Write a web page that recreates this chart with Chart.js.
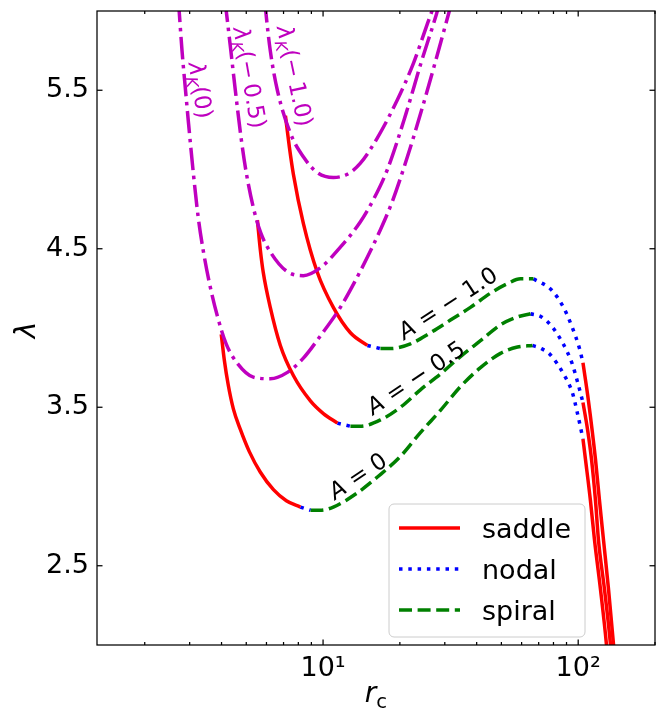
<!DOCTYPE html>
<html>
<head>
<meta charset="utf-8">
<title>lambda vs r_c</title>
<script src="https://cdn.jsdelivr.net/npm/chart.js@4"></script>
<style>
  html, body { margin: 0; padding: 0; background: #fff; }
  #chart { display: block; }
</style>
</head>
<body>
<canvas id="chart" width="664" height="711"></canvas>
<script>
// values: critical point r_c vs lambda for three A values,
// plus the three Keplerian curves lambda_K(A)

// A = 0
const rcA0 = [3.99, 4.10, 4.25, 4.45, 4.74, 5.14, 5.68, 6.39, 7.18, 8.15, 8.92, 9.76, 10.97, 13.63, 16.33, 20.10,
  24.07, 28.84, 34.55, 41.40, 49.59, 57.81, 66.20, 71.79, 77.90, 87.58, 94.97, 99.38, 104.4, 106.8, 111.7, 115.9,
  122.3, 129.1, 131.5];
const lamA0 = [3.96, 3.80, 3.64, 3.49, 3.36, 3.22, 3.09, 2.98, 2.91, 2.87, 2.85, 2.85, 2.87, 2.96, 3.06, 3.19,
  3.34, 3.48, 3.63, 3.75, 3.84, 3.88, 3.89, 3.87, 3.83, 3.71, 3.59, 3.46, 3.30, 3.17, 2.91, 2.66,
  2.35, 2.00, 1.84];
const cutsA0 = [9, 10, 22, 28];

// A = -0.5
const rcA05 = [5.53, 5.68, 5.83, 6.21, 6.80, 7.65, 8.92, 10.03, 11.38, 12.80, 14.01, 16.78, 20.10, 24.07, 28.84, 34.55,
  41.40, 49.59, 57.81, 65.01, 71.79, 77.90, 83.70, 89.97, 94.97, 99.38, 104.4, 108.8, 112.8, 116.9, 120.1, 126.8, 133.9, 136.3];
const lamA05 = [4.68, 4.49, 4.35, 4.13, 3.89, 3.70, 3.54, 3.46, 3.40, 3.38, 3.38, 3.42, 3.50, 3.61, 3.71, 3.82,
  3.92, 4.02, 4.07, 4.09, 4.07, 4.02, 3.95, 3.86, 3.77, 3.66, 3.53, 3.36, 3.17, 2.91, 2.66, 2.35, 2.00, 1.84];
const cutsA05 = [8, 9, 19, 26];

// A = -1.0
const rcA10 = [7.12, 7.38, 7.65, 8.37, 9.50, 10.97, 12.80, 14.92, 16.78, 18.36, 22.00, 26.35, 31.57, 37.81, 45.31,
  52.82, 59.39, 66.80, 78.60, 87.58, 94.97, 101.2, 104.4, 109.7, 116.9, 121.2, 125.7, 131.5, 137.6, 140.1];
const lamA10 = [5.34, 5.14, 4.97, 4.66, 4.35, 4.13, 3.97, 3.89, 3.87, 3.87, 3.90, 3.97, 4.05, 4.13, 4.22,
  4.28, 4.31, 4.31, 4.24, 4.13, 4.00, 3.87, 3.78, 3.54, 3.17, 2.91, 2.66, 2.35, 2.00, 1.84];
const cutsA10 = [7, 8, 17, 22];

// order of the stability types along every A curve (cuts above are where they change)
const stabilityKinds = ['saddle', 'nodal', 'spiral', 'nodal', 'saddle'];

// Keplerian lambda_K(A)
const rcK0 = [2.71, 2.80, 2.89, 2.97, 3.10, 3.24, 3.39, 3.59, 3.86, 4.17, 4.60, 5.33, 6.21, 7.25, 8.37, 9.76,
  11.69, 14.01, 16.78, 18.70, 21.41, 24.29, 27.56, 31.01, 32.15];
const lamK0 = [6.07, 5.75, 5.50, 5.29, 4.98, 4.70, 4.49, 4.28, 4.07, 3.90, 3.78, 3.69, 3.68, 3.72, 3.81, 3.95,
  4.13, 4.36, 4.62, 4.80, 5.08, 5.37, 5.68, 5.98, 6.07];
const rcK05 = [4.12, 4.18, 4.35, 4.53, 4.78, 5.00, 5.33, 5.70, 6.27, 7.18, 8.37, 9.76, 11.69, 14.01, 15.75, 17.87,
  21.02, 24.29, 27.82, 28.84];
const lamK05 = [6.07, 5.99, 5.75, 5.50, 5.19, 4.98, 4.76, 4.60, 4.47, 4.36, 4.33, 4.38, 4.51, 4.67, 4.81, 5.00,
  5.34, 5.68, 5.98, 6.07];
const rcK10 = [5.91, 5.97, 6.21, 6.62, 7.44, 8.37, 9.50, 10.97, 12.45, 14.01, 16.33, 19.56, 22.60, 25.65, 26.59, 27.56];
const lamK10 = [6.07, 5.99, 5.75, 5.50, 5.23, 5.08, 4.98, 4.95, 4.97, 5.04, 5.20, 5.44, 5.67, 5.92, 5.99, 6.07];

// axes
const xMajorTicks = [10, 100];
const xTickLabels = ['10¹', '10²'];
const xMinorTicks = [2, 3, 4, 5, 6, 7, 8, 9, 20, 30, 40, 50, 60, 70, 80, 90, 200];
const yTicks = [2.5, 3.5, 4.5, 5.5];
const legendKinds = ['saddle', 'nodal', 'spiral'];

const LW = 3.5;
const FONT = '"DejaVu Sans", sans-serif';
const kepColor = '#bf00bf';
const kindStyle = {
    saddle: { color: '#ff0000', dash: [] },
    nodal: { color: '#0000ff', dash: [3.5, 5.8] },
    spiral: { color: '#008000', dash: [13, 5.6] }
};
const kepDash = [22.4, 5.6, 3.5, 5.6];

// labels written on the curves (anchor in data units, angle in degrees)
const curveNotes = [
    { runs: [['λ', 'i'], ['K', 'is'], ['(0)', '']], rc: 3.33, lam: 5.50, angle: 81, color: kepColor },
    { runs: [['λ', 'i'], ['K', 'is'], ['(\u2212\u20090.5)', '']], rc: 5.19, lam: 5.58, angle: 80, color: kepColor },
    { runs: [['λ', 'i'], ['K', 'is'], ['(\u2212\u20091.0)', '']], rc: 7.79, lam: 5.59, angle: 78, color: kepColor },
    { runs: [['A', 'i'], [' = 0', '']], rc: 13.63, lam: 3.07, angle: -34, color: '#000' },
    { runs: [['A', 'i'], [' = \u2212 0.5', '']], rc: 23.0, lam: 3.69, angle: -34, color: '#000' },
    { runs: [['A', 'i'], [' = \u2212 1.0', '']], rc: 30.7, lam: 4.16, angle: -33, color: '#000' }
];

function toPoints(rc, lam) {
    return rc.map((x, i) => ({ x, y: lam[i] }));
}

function lineSet(data, color, dash) {
    return {
        data,
        borderColor: color,
        borderDash: dash,
        borderWidth: LW,
        borderJoinStyle: 'round',
        pointRadius: 0,
        pointHoverRadius: 0,
        fill: false,
        cubicInterpolationMode: 'monotone',
        clip: 0
    };
}

// split one A curve into its saddle / nodal / spiral pieces
function branchSets(rc, lam, cuts) {
    const edges = [0, ...cuts, rc.length - 1];
    return stabilityKinds.map((kind, k) => {
        const from = edges[k];
        const to = edges[k + 1] + 1;
        const st = kindStyle[kind];
        return lineSet(toPoints(rc.slice(from, to), lam.slice(from, to)), st.color, st.dash);
    });
}

const datasets = [
    lineSet(toPoints(rcK0, lamK0), kepColor, kepDash),
    lineSet(toPoints(rcK05, lamK05), kepColor, kepDash),
    lineSet(toPoints(rcK10, lamK10), kepColor, kepDash),
    ...branchSets(rcA0, lamA0, cutsA0),
    ...branchSets(rcA05, lamA05, cutsA05),
    ...branchSets(rcA10, lamA10, cutsA10)
];

function drawRuns(ctx, runs, size, x, y, angle, color) {
    const fontOf = f => (f.includes('i') ? 'italic ' : '') + (f.includes('s') ? size * 0.7 : size) + 'px ' + FONT;
    ctx.save();
    ctx.translate(x, y);
    ctx.rotate(angle * Math.PI / 180);
    ctx.fillStyle = color;
    ctx.textAlign = 'left';
    ctx.textBaseline = 'alphabetic';
    let width = 0;
    runs.forEach(([t, f]) => { ctx.font = fontOf(f); width += ctx.measureText(t).width; });
    let cx = -width / 2;
    runs.forEach(([t, f]) => {
        ctx.font = fontOf(f);
        ctx.fillText(t, cx, size * 0.36 + (f.includes('s') ? size * 0.22 : 0));
        cx += ctx.measureText(t).width;
    });
    ctx.restore();
}

function line(ctx, x1, y1, x2, y2) {
    ctx.beginPath();
    ctx.moveTo(x1, y1);
    ctx.lineTo(x2, y2);
    ctx.stroke();
}

const decorations = {
    id: 'decorations',
    afterDraw(chart) {
        const { ctx, chartArea: a, scales: { x, y } } = chart;
        ctx.save();

        // frame and inward ticks on all four sides
        ctx.strokeStyle = '#000';
        ctx.lineWidth = 1.25;
        ctx.strokeRect(a.left, a.top, a.right - a.left, a.bottom - a.top);
        x.ticks.forEach(t => {
            const px = x.getPixelForValue(t.value);
            const len = xMajorTicks.includes(t.value) ? 5.5 : 3;
            line(ctx, px, a.bottom, px, a.bottom - len);
            line(ctx, px, a.top, px, a.top + len);
        });
        y.ticks.forEach(t => {
            const py = y.getPixelForValue(t.value);
            line(ctx, a.left, py, a.left + 5.5, py);
            line(ctx, a.right, py, a.right - 5.5, py);
        });

        // curve labels
        curveNotes.forEach(n => {
            drawRuns(ctx, n.runs, 23, x.getPixelForValue(n.rc), y.getPixelForValue(n.lam), n.angle, n.color);
        });

        // axis titles
        drawRuns(ctx, [['λ', 'i']], 28, 25, (a.top + a.bottom) / 2 + 2, -90, '#000');
        drawRuns(ctx, [['r', 'i'], ['c', 's']], 28, (a.left + a.right) / 2, 692, 0, '#000');

        // legend box
        const bx = 389, by = 504, bw = 196, bh = 133, r = 5;
        ctx.beginPath();
        ctx.moveTo(bx + r, by);
        ctx.arcTo(bx + bw, by, bx + bw, by + bh, r);
        ctx.arcTo(bx + bw, by + bh, bx, by + bh, r);
        ctx.arcTo(bx, by + bh, bx, by, r);
        ctx.arcTo(bx, by, bx + bw, by, r);
        ctx.closePath();
        ctx.fillStyle = 'rgba(255,255,255,0.8)';
        ctx.fill();
        ctx.strokeStyle = '#cccccc';
        ctx.lineWidth = 1;
        ctx.stroke();
        legendKinds.forEach((kind, i) => {
            const ly = by + 24 + i * 41;
            ctx.strokeStyle = kindStyle[kind].color;
            ctx.setLineDash(kindStyle[kind].dash);
            ctx.lineWidth = LW;
            ctx.lineCap = 'butt';
            line(ctx, bx + 10, ly, bx + 71, ly);
            ctx.setLineDash([]);
            ctx.fillStyle = '#000';
            ctx.font = '27px ' + FONT;
            ctx.textAlign = 'left';
            ctx.textBaseline = 'alphabetic';
            ctx.fillText(kind, bx + 93, ly + 9.5);
        });
        ctx.restore();
    }
};

Chart.defaults.font.family = FONT;

new Chart(document.getElementById('chart'), {
    type: 'line',
    data: { datasets },
    options: {
        responsive: false,
        animation: false,
        events: [],
        layout: { padding: { top: 11, right: 9, left: 0, bottom: 0 } },
        plugins: { legend: { display: false }, tooltip: { enabled: false } },
        scales: {
            x: {
                type: 'logarithmic',
                min: 1.3,
                max: 200,
                bounds: 'data',
                grid: { display: false, drawTicks: false },
                border: { display: false },
                afterBuildTicks: s => {
                    s.ticks = [...xMinorTicks, ...xMajorTicks].sort((p, q) => p - q)
                        .map(v => ({ value: v, major: xMajorTicks.includes(v) }));
                },
                afterFit: s => { s.height = 66; s.paddingLeft = 0; s.paddingRight = 0; },
                ticks: {
                    autoSkip: false,
                    maxRotation: 0,
                    minRotation: 0,
                    padding: 8,
                    color: '#000',
                    font: { size: 27 },
                    callback: v => {
                        const k = xMajorTicks.indexOf(v);
                        return k >= 0 ? xTickLabels[k] : '';
                    }
                }
            },
            y: {
                type: 'linear',
                min: 2,
                max: 6,
                bounds: 'data',
                grid: { display: false, drawTicks: false },
                border: { display: false },
                afterBuildTicks: s => { s.ticks = yTicks.map(v => ({ value: v })); },
                afterFit: s => { s.width = 97; s.paddingTop = 0; s.paddingBottom = 0; },
                ticks: {
                    autoSkip: false,
                    padding: 8,
                    color: '#000',
                    font: { size: 27 },
                    callback: v => v.toFixed(1)
                }
            }
        }
    },
    plugins: [decorations]
});
</script>
</body>
</html>
